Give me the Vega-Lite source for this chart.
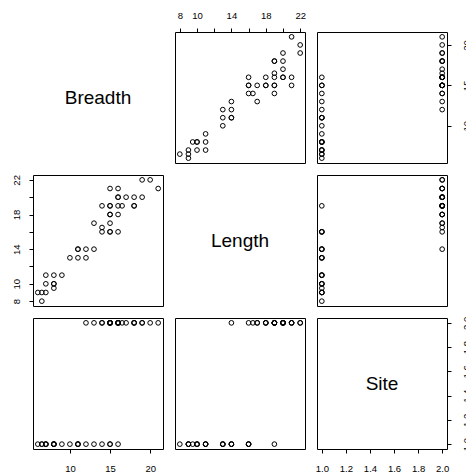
{
  "$schema": "https://vega.github.io/schema/vega-lite/v6.json",
  "background": "white",
  "padding": {"left": 10, "top": 9, "right": 0, "bottom": 0},
  "data": {
    "values": [
      {"Breadth": 21, "Length": 21, "Site": 2},
      {"Breadth": 20, "Length": 22, "Site": 2},
      {"Breadth": 19, "Length": 22, "Site": 2},
      {"Breadth": 19, "Length": 20, "Site": 2},
      {"Breadth": 18, "Length": 20, "Site": 2},
      {"Breadth": 18, "Length": 19, "Site": 2},
      {"Breadth": 18, "Length": 19, "Site": 2},
      {"Breadth": 17, "Length": 20, "Site": 2},
      {"Breadth": 16.5, "Length": 19, "Site": 2},
      {"Breadth": 16, "Length": 16, "Site": 2},
      {"Breadth": 16, "Length": 18, "Site": 2},
      {"Breadth": 16, "Length": 20, "Site": 2},
      {"Breadth": 16, "Length": 20, "Site": 2},
      {"Breadth": 16, "Length": 21, "Site": 2},
      {"Breadth": 15, "Length": 17, "Site": 2},
      {"Breadth": 15, "Length": 18, "Site": 2},
      {"Breadth": 15, "Length": 18, "Site": 2},
      {"Breadth": 15, "Length": 19, "Site": 2},
      {"Breadth": 15, "Length": 19, "Site": 2},
      {"Breadth": 15, "Length": 21, "Site": 2},
      {"Breadth": 14, "Length": 16.5, "Site": 2},
      {"Breadth": 14, "Length": 19, "Site": 2},
      {"Breadth": 13, "Length": 17, "Site": 2},
      {"Breadth": 12, "Length": 14, "Site": 2},
      {"Breadth": 16, "Length": 19, "Site": 1},
      {"Breadth": 15, "Length": 16, "Site": 1},
      {"Breadth": 15, "Length": 16, "Site": 1},
      {"Breadth": 14, "Length": 16, "Site": 1},
      {"Breadth": 13, "Length": 14, "Site": 1},
      {"Breadth": 12, "Length": 13, "Site": 1},
      {"Breadth": 11, "Length": 13, "Site": 1},
      {"Breadth": 11, "Length": 14, "Site": 1},
      {"Breadth": 11, "Length": 14, "Site": 1},
      {"Breadth": 10, "Length": 13, "Site": 1},
      {"Breadth": 9, "Length": 11, "Site": 1},
      {"Breadth": 8, "Length": 9.5, "Site": 1},
      {"Breadth": 8, "Length": 10, "Site": 1},
      {"Breadth": 8, "Length": 10, "Site": 1},
      {"Breadth": 8, "Length": 11, "Site": 1},
      {"Breadth": 6.5, "Length": 8, "Site": 1},
      {"Breadth": 7, "Length": 9, "Site": 1},
      {"Breadth": 6.5, "Length": 9, "Site": 1},
      {"Breadth": 6, "Length": 9, "Site": 1},
      {"Breadth": 7, "Length": 10, "Site": 1},
      {"Breadth": 7, "Length": 11, "Site": 1}
    ]
  },
  "config": {
    "view": {"stroke": "black", "strokeWidth": 1, "fill": "white"},
    "axis": {
      "domain": false, "grid": false, "title": null,
      "ticks": true, "tickColor": "black", "tickSize": 4, "tickWidth": 1,
      "labelFont": "Liberation Sans", "labelFontSize": 9.5, "labelColor": "black",
      "labelOverlap": false, "labelFlush": false
    },
    "point": {"shape": "circle", "filled": false, "color": "black", "size": 22, "strokeWidth": 1, "opacity": 1},
    "text": {"font": "Liberation Sans", "fontSize": 19, "color": "black"}
  },
  "columns": 3,
  "bounds": "flush",
  "spacing": 12,
  "concat": [
    {
      "width": 130, "height": 131,
      "data": {"values": [{"name": "Breadth"}]},
      "mark": "text",
      "encoding": {"text": {"field": "name"}}
    },
    {
      "width": 130, "height": 131,
      "mark": "point",
      "encoding": {
        "x": {"field": "Length", "type": "quantitative",
              "scale": {"domain": [7.44, 22.56], "nice": false, "zero": false},
              "axis": {"orient": "top", "values": [8, 10, 12, 14, 16, 18, 20, 22], "labelPadding": 8,
                       "labelExpr": "datum.value == 12 || datum.value == 16 || datum.value == 20 ? '' : datum.label"}},
        "y": {"field": "Breadth", "type": "quantitative",
              "scale": {"domain": [5.4, 21.6], "nice": false, "zero": false}, "axis": null}
      }
    },
    {
      "width": 130, "height": 131,
      "mark": "point",
      "encoding": {
        "x": {"field": "Site", "type": "quantitative",
              "scale": {"domain": [0.96, 2.04], "nice": false, "zero": false}, "axis": null},
        "y": {"field": "Breadth", "type": "quantitative",
              "scale": {"domain": [5.4, 21.6], "nice": false, "zero": false},
              "axis": {"orient": "right", "values": [10, 15, 20], "labelAngle": -90,
                       "labelAlign": "center", "labelBaseline": "top", "labelPadding": 10}}
      }
    },
    {
      "width": 130, "height": 131,
      "mark": "point",
      "encoding": {
        "x": {"field": "Breadth", "type": "quantitative",
              "scale": {"domain": [5.4, 21.6], "nice": false, "zero": false}, "axis": null},
        "y": {"field": "Length", "type": "quantitative",
              "scale": {"domain": [7.44, 22.56], "nice": false, "zero": false},
              "axis": {"orient": "left", "values": [8, 10, 12, 14, 16, 18, 20, 22], "labelAngle": -90,
                       "labelAlign": "center", "labelBaseline": "bottom", "labelPadding": 8,
                       "labelExpr": "datum.value == 12 || datum.value == 16 || datum.value == 20 ? '' : datum.label"}}
      }
    },
    {
      "width": 130, "height": 131,
      "data": {"values": [{"name": "Length"}]},
      "mark": "text",
      "encoding": {"text": {"field": "name"}}
    },
    {
      "width": 130, "height": 131,
      "mark": "point",
      "encoding": {
        "x": {"field": "Site", "type": "quantitative",
              "scale": {"domain": [0.96, 2.04], "nice": false, "zero": false}, "axis": null},
        "y": {"field": "Length", "type": "quantitative",
              "scale": {"domain": [7.44, 22.56], "nice": false, "zero": false}, "axis": null}
      }
    },
    {
      "width": 130, "height": 131,
      "mark": "point",
      "encoding": {
        "x": {"field": "Breadth", "type": "quantitative",
              "scale": {"domain": [5.4, 21.6], "nice": false, "zero": false},
              "axis": {"orient": "bottom", "values": [10, 15, 20], "labelPadding": 10}},
        "y": {"field": "Site", "type": "quantitative",
              "scale": {"domain": [0.96, 2.04], "nice": false, "zero": false}, "axis": null}
      }
    },
    {
      "width": 130, "height": 131,
      "mark": "point",
      "encoding": {
        "x": {"field": "Length", "type": "quantitative",
              "scale": {"domain": [7.44, 22.56], "nice": false, "zero": false}, "axis": null},
        "y": {"field": "Site", "type": "quantitative",
              "scale": {"domain": [0.96, 2.04], "nice": false, "zero": false}, "axis": null}
      }
    },
    {
      "width": 130, "height": 131,
      "layer": [
        {
          "mark": {"type": "point", "opacity": 0},
          "encoding": {
            "x": {"field": "Site", "type": "quantitative",
                  "scale": {"domain": [0.96, 2.04], "nice": false, "zero": false},
                  "axis": {"orient": "bottom", "values": [1, 1.2, 1.4, 1.6, 1.8, 2], "format": ".1f", "labelPadding": 10}},
            "y": {"field": "Site", "type": "quantitative",
                  "scale": {"domain": [0.96, 2.04], "nice": false, "zero": false},
                  "axis": {"orient": "right", "values": [1, 1.2, 1.4, 1.6, 1.8, 2], "format": ".1f", "labelAngle": -90,
                           "labelAlign": "center", "labelBaseline": "top", "labelPadding": 10}}
          }
        },
        {
          "data": {"values": [{"name": "Site"}]},
          "mark": "text",
          "encoding": {"text": {"field": "name"}}
        }
      ]
    }
  ]
}
